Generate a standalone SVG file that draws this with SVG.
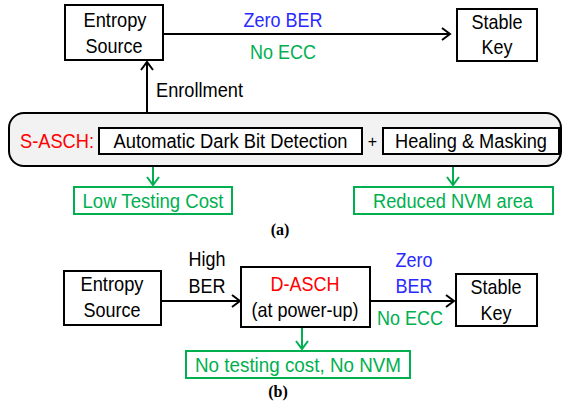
<svg xmlns="http://www.w3.org/2000/svg" width="563" height="407" viewBox="0 0 563 407">
<defs>
<style>
text{font-family:"Liberation Sans",Arial,sans-serif;font-size:21px;text-anchor:middle}
.in{font-size:19.5px}
.box{fill:#fff;stroke:#000;stroke-width:2}
.gbox{fill:#fff;stroke:#00b050;stroke-width:2}
.line{fill:none;stroke:#000;stroke-width:2}
.gline{fill:none;stroke:#00b050;stroke-width:2}
.red{fill:#ff0000}
.blue{fill:#2a2aff}
.green{fill:#00b050}
.cap{font-family:"Liberation Serif","Times New Roman",serif;font-weight:bold;font-size:16px}
</style>
<marker id="ah" markerUnits="userSpaceOnUse" markerWidth="12" markerHeight="14" refX="9" refY="7" orient="auto">
<path d="M1,1 L9,7 L1,13" fill="none" stroke="#000" stroke-width="2"/>
</marker>
<marker id="ahg" markerUnits="userSpaceOnUse" markerWidth="12" markerHeight="14" refX="9" refY="7" orient="auto">
<path d="M1,1 L9,7 L1,13" fill="none" stroke="#00b050" stroke-width="2"/>
</marker>
</defs>
<rect width="563" height="407" fill="#fff"/>

<g id="connectors">
<line class="line" x1="163" y1="34" x2="450" y2="34" marker-end="url(#ah)"/>
<line class="line" x1="147" y1="113" x2="147" y2="62" marker-end="url(#ah)"/>
<line class="gline" x1="153" y1="155" x2="153" y2="185" marker-end="url(#ahg)"/>
<line class="gline" x1="453" y1="155" x2="453" y2="185" marker-end="url(#ahg)"/>
<line class="line" x1="161" y1="301" x2="240" y2="301" marker-end="url(#ah)"/>
<line class="gline" x1="302" y1="327" x2="302" y2="349" marker-end="url(#ahg)"/>
<line class="line" x1="370" y1="301" x2="454" y2="301" marker-end="url(#ah)"/>
<text x="283" y="27" class="blue" textLength="79" lengthAdjust="spacingAndGlyphs">Zero BER</text>
<text x="283" y="59" class="green" textLength="66" lengthAdjust="spacingAndGlyphs">No ECC</text>
<text x="156" y="97" style="text-anchor:start" textLength="87" lengthAdjust="spacingAndGlyphs">Enrollment</text>
<text x="207" y="266" textLength="37" lengthAdjust="spacingAndGlyphs">High</text>
<text x="207" y="293" textLength="37" lengthAdjust="spacingAndGlyphs">BER</text>
<text x="414" y="267" class="blue" textLength="37" lengthAdjust="spacingAndGlyphs">Zero</text>
<text x="414" y="293" class="blue" textLength="37" lengthAdjust="spacingAndGlyphs">BER</text>
<text x="410" y="325" class="green" textLength="66" lengthAdjust="spacingAndGlyphs">No ECC</text>
</g>

<g id="entropy-a">
<rect class="box" x="65" y="5" width="98" height="55"/>
<text x="115" y="27" textLength="63" lengthAdjust="spacingAndGlyphs">Entropy</text>
<text x="114" y="53" textLength="57" lengthAdjust="spacingAndGlyphs">Source</text>
</g>
<g id="stablekey-a">
<rect class="box" x="457" y="9" width="80" height="52"/>
<text x="497" y="29" textLength="51" lengthAdjust="spacingAndGlyphs">Stable</text>
<text x="497" y="54" textLength="31" lengthAdjust="spacingAndGlyphs">Key</text>
</g>
<g id="sasch">
<rect x="9" y="113" width="552" height="53" rx="15" fill="#f2f2f2" stroke="#000" stroke-width="2"/>
<text x="20" y="148" class="red" style="text-anchor:start" textLength="74" lengthAdjust="spacingAndGlyphs">S-ASCH:</text>
<text x="372.5" y="147" style="font-size:16px">+</text>
</g>
<g id="darkbit">
<rect class="box" x="99" y="128" width="263" height="26"/>
<text x="230.5" y="148" class="in" textLength="234" lengthAdjust="spacingAndGlyphs">Automatic Dark Bit Detection</text>
</g>
<g id="healing">
<rect class="box" x="383" y="128" width="176" height="26"/>
<text x="471" y="148" class="in" textLength="152" lengthAdjust="spacingAndGlyphs">Healing &amp; Masking</text>
</g>
<g id="lowtest">
<rect class="gbox" x="74" y="187" width="158" height="27"/>
<text x="153" y="208" class="green in" textLength="141" lengthAdjust="spacingAndGlyphs">Low Testing Cost</text>
</g>
<g id="nvm">
<rect class="gbox" x="354" y="187" width="199" height="27"/>
<text x="453" y="208" class="green in" textLength="160" lengthAdjust="spacingAndGlyphs">Reduced NVM area</text>
</g>
<text x="280" y="235" class="cap">(a)</text>

<g id="entropy-b">
<rect class="box" x="64" y="271" width="97" height="54"/>
<text x="112" y="291" textLength="63" lengthAdjust="spacingAndGlyphs">Entropy</text>
<text x="112" y="317" textLength="57" lengthAdjust="spacingAndGlyphs">Source</text>
</g>
<g id="dasch">
<rect class="box" x="241" y="267" width="129" height="60"/>
<text x="305" y="291" class="red" textLength="69" lengthAdjust="spacingAndGlyphs">D-ASCH</text>
<text x="305" y="317" textLength="107" lengthAdjust="spacingAndGlyphs">(at power-up)</text>
</g>
<g id="stablekey-b">
<rect class="box" x="456" y="274" width="81" height="52"/>
<text x="496" y="294" textLength="51" lengthAdjust="spacingAndGlyphs">Stable</text>
<text x="496" y="320" textLength="31" lengthAdjust="spacingAndGlyphs">Key</text>
</g>
<g id="notest">
<rect class="gbox" x="186" y="351" width="224" height="27"/>
<text x="298" y="372" class="green in" textLength="206" lengthAdjust="spacingAndGlyphs">No testing cost, No NVM</text>
</g>
<text x="278" y="397" class="cap">(b)</text>
</svg>
